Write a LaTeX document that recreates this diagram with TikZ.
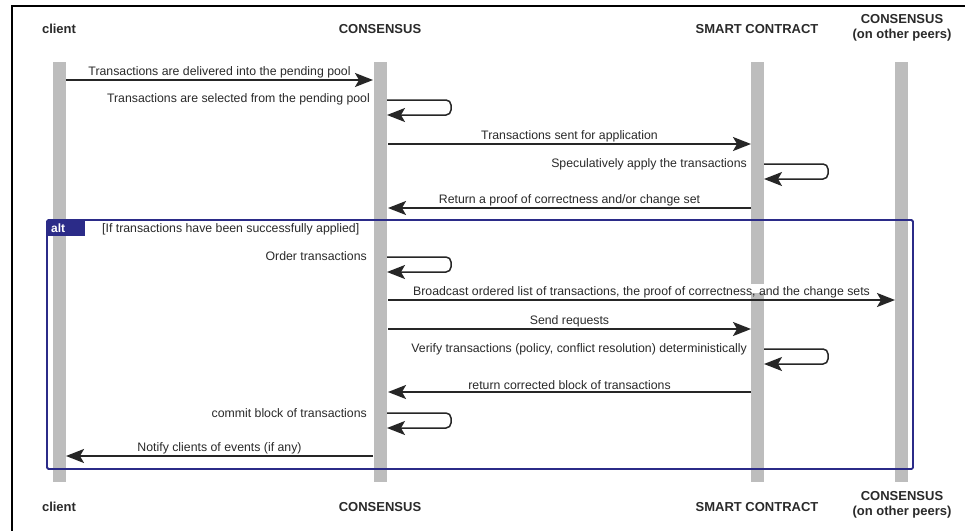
\documentclass[tikz,border=0pt]{standalone}
\usepackage{fontspec}
\setmainfont{Liberation Sans}
\usetikzlibrary{arrows.meta}
\definecolor{lifegray}{HTML}{BDBDBD}
\definecolor{altblue}{HTML}{2B2B88}
\definecolor{txt}{HTML}{2A2A2A}
\begin{document}
\begin{tikzpicture}[x=1pt,y=-1pt,
  head/.style={font=\bfseries\fontsize{13}{15}\selectfont, text=txt, align=center, inner sep=0pt},
  lbl/.style={font=\fontsize{12.3}{14}\selectfont, text=txt, inner sep=1pt},
  life/.style={line width=13pt, draw=lifegray},
  msg/.style={line width=1.8pt, draw=black!85, -{Stealth[length=18pt,width=14pt,inset=4pt]}},
  selfmsg/.style={line width=1.5pt, draw=black!85, rounded corners=5pt, -{Stealth[length=18pt,width=14pt,inset=4pt]}},
]
\useasboundingbox (0,0) rectangle (965,530);
\fill[white] (0,0) rectangle (965,530);
% outer frame
\draw[line width=2pt] (12,545) -- (12,6) -- (980,6);

% headers
\node[head] (hcl) at (59,29) {client};
\node[head] (hco) at (380,29) {CONSENSUS};
\node[head] (hsc) at (757,29) {SMART CONTRACT};
\node[head] (hop) at (902,28) {CONSENSUS\\(on other peers)};
\node[head] (fcl) at (59,507) {client};
\node[head] (fco) at (380,507) {CONSENSUS};
\node[head] (fsc) at (757,507) {SMART CONTRACT};
\node[head] (fop) at (902,505) {CONSENSUS\\(on other peers)};

% lifelines
\coordinate (clT) at (59,62);  \coordinate (clB) at (59,482);
\coordinate (coT) at (380,62); \coordinate (coB) at (380,482);
\coordinate (scT) at (757,62); \coordinate (scM1) at (757,284);
\coordinate (scM2) at (757,293); \coordinate (scB) at (757,482);
\coordinate (opT) at (901,62); \coordinate (opB) at (901,482);
\draw[life] (clT) -- (clB);
\draw[life] (coT) -- (coB);
\draw[life] (scT) -- (scM1);
\draw[life] (scM2) -- (scB);
\draw[life] (opT) -- (opB);

% alt frame
\draw[altblue, line width=1.8pt, rounded corners=1.5pt] (47,220) rectangle (913,469);
\fill[altblue] (47,220) rectangle (85,236);
\node[font=\bfseries\fontsize{12}{13}\selectfont, text=white, anchor=west, inner sep=0pt] (alt) at (51,228.5) {alt};
\node[lbl, anchor=west] (cond) at (101,229.5) {[If transactions have been successfully applied]};

% message endpoints
\coordinate (m1a) at (66,80);   \coordinate (m1b) at (373,80);
\coordinate (s1a) at (387,100); \coordinate (s1b) at (387,115);
\coordinate (m3a) at (388,144); \coordinate (m3b) at (751,144);
\coordinate (s2a) at (764,164); \coordinate (s2b) at (764,179);
\coordinate (m5a) at (751,208); \coordinate (m5b) at (388,208);
\coordinate (s3a) at (387,257); \coordinate (s3b) at (387,272);
\coordinate (m7a) at (388,300); \coordinate (m7b) at (895,300);
\coordinate (m8a) at (388,329); \coordinate (m8b) at (751,329);
\coordinate (s4a) at (764,349); \coordinate (s4b) at (764,364);
\coordinate (m10a) at (751,392); \coordinate (m10b) at (388,392);
\coordinate (s5a) at (387,413); \coordinate (s5b) at (387,428);
\coordinate (m12a) at (373,456); \coordinate (m12b) at (66,456);

% messages
\draw[msg] (m1a) -- node[lbl, above=0pt] {Transactions are delivered into the pending pool} (m1b);
\draw[selfmsg] (s1a) -- ++(64,0) -- ++(0,15) -- (s1b);
\node[lbl, anchor=east] at (371,99) {Transactions are selected from the pending pool};

\draw[msg] (m3a) -- node[lbl, above=0pt] {Transactions sent for application} (m3b);
\draw[selfmsg] (s2a) -- ++(64,0) -- ++(0,15) -- (s2b);
\node[lbl, anchor=east] at (748,164) {Speculatively apply the transactions};

\draw[msg] (m5a) -- node[lbl, above=0pt] {Return a proof of correctness and/or change set} (m5b);

\draw[selfmsg] (s3a) -- ++(64,0) -- ++(0,15) -- (s3b);
\node[lbl, anchor=east] at (368,256) {Order transactions};

\draw[msg] (m7a) -- node[lbl, above=0pt] {Broadcast ordered list of transactions, the proof of correctness, and the change sets} (m7b);
\draw[msg] (m8a) -- node[lbl, above=0pt] {Send requests} (m8b);

\draw[selfmsg] (s4a) -- ++(64,0) -- ++(0,15) -- (s4b);
\node[lbl, anchor=east] at (748,349) {Verify transactions (policy, conflict resolution) deterministically};

\draw[msg] (m10a) -- node[lbl, above=0pt] {return corrected block of transactions} (m10b);

\draw[selfmsg] (s5a) -- ++(64,0) -- ++(0,15) -- (s5b);
\node[lbl, anchor=east] at (368,413) {commit block of transactions};

\draw[msg] (m12a) -- node[lbl, above=0pt] {Notify clients of events (if any)} (m12b);
\end{tikzpicture}
\end{document}
